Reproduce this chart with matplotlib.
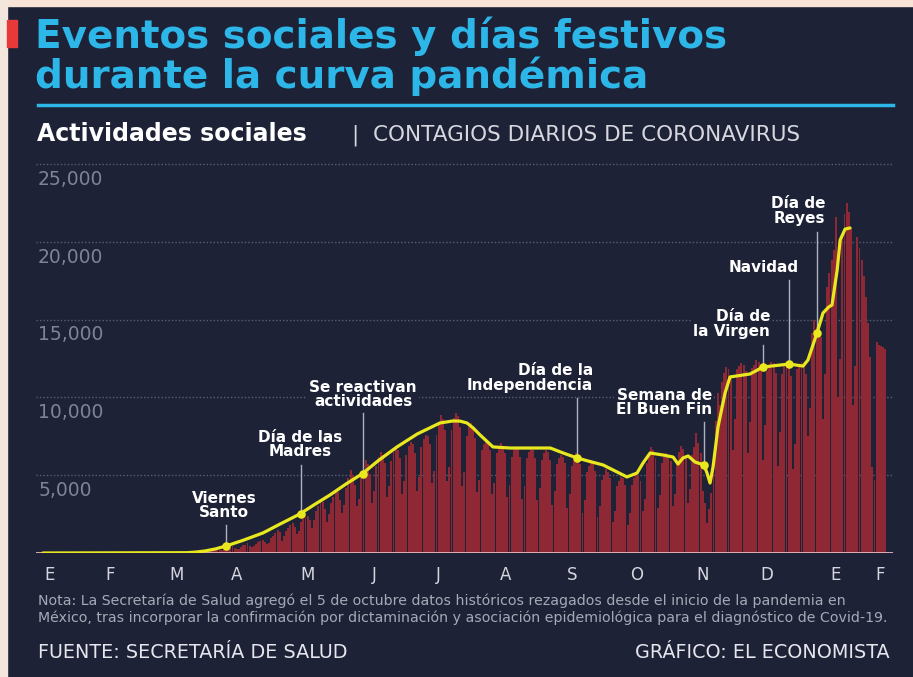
import matplotlib.pyplot as plt
import numpy as np

# casos diarios (dia 60 = 1 de marzo de 2020), semanas de domingo a sabado
casos = [
    0, 0, 1, 1, 1, 2, 3,
    2, 4, 5, 7, 11, 15, 15,
    10, 29, 11, 26, 46, 40, 48,
    67, 51, 38, 93, 110, 130, 121,
    131, 90, 105, 160, 178, 163, 171,
    202, 185, 296, 250, 350, 420, 330,
    260, 280, 400, 520, 490, 620, 450,
    400, 420, 580, 730, 760, 840, 700,
    560, 640, 960, 1120, 1300, 1480, 1350,
    780, 1100, 1400, 1600, 1800, 1900, 1700,
    1250, 1400, 2000, 2200, 2300, 2400, 2100,
    1600, 2100, 2700, 3000, 3400, 3300, 2800,
    2000, 2500, 3200, 3600, 4050, 3900, 3400,
    2600, 3100, 4200, 4800, 5340, 5000, 4400,
    3000, 3500, 4800, 5500, 5980, 5700, 5100,
    3200, 4000, 5600, 6200, 6490, 6300, 5800,
    3600, 4300, 5900, 6500, 6820, 6600, 6100,
    3800, 4600, 6300, 6900, 7140, 7000, 6400,
    4000, 4900, 6800, 7300, 7590, 7500, 7000,
    4500, 5300, 7600, 8400, 8870, 8600, 7900,
    4600, 5500, 7900, 8700, 9000, 8800, 8100,
    4300, 5200, 7500, 8100, 8360, 8000, 7400,
    3900, 4700, 6600, 7000, 7270, 7100, 6600,
    3800, 4500, 6400, 6900, 7070, 6900, 6400,
    3600, 4400, 6200, 6600, 6820, 6700, 6200,
    3500, 4300, 6100, 6500, 6700, 6600, 6100,
    3400, 4200, 6000, 6400, 6620, 6500, 6000,
    3100, 4000, 5700, 6100, 6300, 6200, 5800,
    2900, 3800, 5600, 6000, 6430, 6100, 5700,
    2600, 3400, 5200, 5600, 5980, 5700, 5300,
    2300, 3000, 4700, 5000, 5400, 5200, 4800,
    2000, 2700, 4300, 4600, 4890, 4800, 4400,
    1800, 2600, 4400, 4800, 5100, 5000, 4600,
    2700, 3500, 5800, 6400, 6820, 6600, 6100,
    2900, 3700, 5800, 6200, 6430, 6300, 5900,
    3000, 3800, 6000, 6500, 6900, 6700, 6200,
    3200, 4100, 6300, 6800, 7720, 7100, 6400,
    4000, 3200, 1930, 2800, 3860, 6500, 8500,
    10290, 9500, 11000, 11600, 11960, 11800, 11400,
    6600, 8600, 11800, 12000, 12220, 12100, 11700,
    6400, 8400, 11900, 12100, 12410, 12300, 11800,
    6000, 8200, 11700, 12000, 12300, 12200, 11600,
    5600, 7800, 11500, 12000, 12220, 12100, 11400,
    5400, 7000, 11800, 12100, 12300, 12000, 11500,
    7500, 9300, 14150, 14980, 14500, 14700, 13900,
    8600, 11500, 17100, 18000, 18840, 19500, 21600,
    10000, 12500, 20300, 21800, 22500, 21900, 20900,
    9500, 12000, 20320, 19600, 18840, 17800, 16460,
    14790, 12600, 5530, 4690, 13570, 13400, 13300,
    13250, 13100,
]
dia_inicio = 60

# curva suavizada (dia del año, contagios)
curva_dia = [11.7, 78.8, 83, 87.2, 92, 97.0, 105, 114.2, 122, 131.4, 138, 145.4,
             153, 160.3, 168, 176.6, 186, 196.6, 202.7, 206, 209.2, 212, 215.3,
             221.3, 229.3, 248, 254, 260.5, 266, 272.6, 279.1, 283.7, 288.4,
             291.2, 294.5, 300.5, 305.2, 307.5, 309.8, 312.2, 315.4, 319.6,
             321.0, 322.4, 323.8, 326.1, 329.4, 331.7, 341.0, 347.1, 359.2,
             365.7, 368.0, 372.2, 375.0, 377.5, 379.2, 381.6, 383.0, 385.3, 387.6]
curva_val = [0, 20, 60, 130, 260, 450, 820, 1290, 1850, 2510, 3100, 3730,
             4450, 5080, 5950, 6820, 7650, 8360, 8490, 8480, 8360, 8050, 7590,
             6820, 6750, 6750, 6430, 6110, 5900, 5660, 5210, 4890, 5140,
             5790, 6430, 6300, 6170, 5720, 6110, 6240, 5850, 5660,
             5140, 4500, 5530, 8100, 10290, 11320, 11510, 11960, 12150,
             12020, 12410, 14150, 15430, 15800, 15950, 18200, 20130, 20830, 20900]

eventos = ['Viernes\nSanto', 'Día de las\nMadres', 'Se reactivan\nactividades',
           'Día de la\nIndependencia', 'Semana de\nEl Buen Fin', 'Día de\nla Virgen',
           'Navidad', 'Día de\nReyes']
evento_dia = [97.0, 131.9, 160.8, 260.5, 319.6, 347.1, 359.2, 372.2]
evento_val = [450, 2510, 5080, 6110, 5660, 11960, 12150, 14150]
# posicion de las etiquetas
etiqueta_x = [96, 131.4, 160.8, 267.9, 323.3, 350.4, 363.5, 376]
etiqueta_y = [3050, 6980, 10190, 11250, 9680, 14720, 18330, 21990]
etiqueta_ha = ['center', 'center', 'center', 'right', 'right', 'right', 'right', 'right']
linea_top = [1800, 5660, 9000, 9970, 8420, 13370, 17550, 20640]

meses = ['E', 'F', 'M', 'A', 'M', 'J', 'J', 'A', 'S', 'O', 'N', 'D', 'E', 'F']
meses_pos = [15, 43, 74, 102, 135, 166, 196, 227, 258, 288, 319, 349, 381, 401.6]

bg = '#1e2236'
cian = '#2db6e8'
amarillo = '#e9e81f'
fuente = 'DejaVu Sans'

fig = plt.figure(figsize=(9.13, 6.77), dpi=100, facecolor=bg)

# franjas claras del borde y marca roja
fig.patches.append(plt.Rectangle((0, 1 - 6 / 677), 1, 6 / 677, transform=fig.transFigure,
                                 color='#f8e4d6', zorder=0))
fig.patches.append(plt.Rectangle((0, 0), 7 / 913, 1, transform=fig.transFigure,
                                 color='#f3e6dc', zorder=0))
fig.patches.append(plt.Rectangle((7 / 913, 1 - 47 / 677), 10 / 913, 27 / 677,
                                 transform=fig.transFigure, color='#e8393a', zorder=1))

def fy(y):
    return 1 - y / 677

def fx(x):
    return x / 913

fig.text(fx(35), fy(48), 'Eventos sociales y días festivos', color=cian, fontsize=28,
         fontweight='bold', family=fuente, va='baseline')
fig.text(fx(35), fy(88), 'durante la curva pandémica', color=cian, fontsize=28,
         fontweight='bold', family=fuente, va='baseline')
fig.add_artist(plt.Line2D([fx(38), fx(893)], [fy(105), fy(105)], color=cian, lw=2.5))

fig.text(fx(37), fy(141), 'Actividades sociales', color='white', fontsize=17,
         fontweight='bold', family=fuente, va='baseline')
fig.text(fx(352), fy(141), '|  CONTAGIOS DIARIOS DE CORONAVIRUS', color='#d6d7df',
         fontsize=15.5, family=fuente, va='baseline')

ax = fig.add_axes([fx(36), 124 / 677, (893 - 36) / 913, 393 / 677])
ax.set_facecolor(bg)
ax.set_xlim(8.5, 407.6)
ax.set_ylim(0, 25270)
for s in ax.spines.values():
    s.set_visible(False)

for v in [5000, 10000, 15000, 20000, 25000]:
    ax.axhline(v, color='#5b5f72', lw=1, ls=(0, (1, 1.5)), zorder=1)
    ax.annotate(f'{v:,}', xy=(0, v), xycoords=('axes fraction', 'data'),
                xytext=(1.5, -11), textcoords='offset points', color='#7f8395',
                fontsize=13.5, family=fuente, va='center', ha='left')

dias = np.arange(len(casos)) + dia_inicio
ax.bar(dias, casos, width=0.9, color='#8e2834', zorder=2, linewidth=0)
ax.axhline(0, color='#e7b9c2', lw=2, zorder=3)

ax.plot(curva_dia, curva_val, color=amarillo, lw=2.3, zorder=5,
        solid_joinstyle='round', solid_capstyle='round')
ax.scatter(evento_dia, evento_val, s=38, color=amarillo, zorder=6, linewidths=0)

for i, txt in enumerate(eventos):
    ax.plot([evento_dia[i], evento_dia[i]], [evento_val[i], linea_top[i]],
            color='#aeb2c0', lw=1, zorder=4)
    ax.text(etiqueta_x[i], etiqueta_y[i], txt, color='white', fontsize=11,
            fontweight='bold', family=fuente, ha=etiqueta_ha[i], va='center',
            multialignment=etiqueta_ha[i], linespacing=0.95, zorder=7,
            bbox=dict(boxstyle='square,pad=0.15', fc=bg, ec='none'))

ax.set_yticks([])
ax.set_xticks(meses_pos)
ax.set_xticklabels(meses, color='#d5d6de', fontsize=12, family=fuente)
ax.tick_params(axis='x', length=0, pad=9)

fig.text(fx(38), fy(601), 'Nota: La Secretaría de Salud agregó el 5 de octubre datos históricos '
         'rezagados desde el inicio de la pandemia en', color='#a6a9b6', fontsize=10.2,
         family=fuente, va='center')
fig.text(fx(38), fy(618), 'México, tras incorporar la confirmación por dictaminación y asociación '
         'epidemiológica para el diagnóstico de Covid-19.', color='#a6a9b6', fontsize=10.2,
         family=fuente, va='center')
fig.text(fx(38), fy(652), 'FUENTE: SECRETARÍA DE SALUD', color='#e6e6ee', fontsize=13.8,
         family=fuente, va='center')
fig.text(fx(890), fy(652), 'GRÁFICO: EL ECONOMISTA', color='#e6e6ee', fontsize=13.8,
         family=fuente, va='center', ha='right')

fig.savefig('out.png', dpi=100, facecolor=bg)
